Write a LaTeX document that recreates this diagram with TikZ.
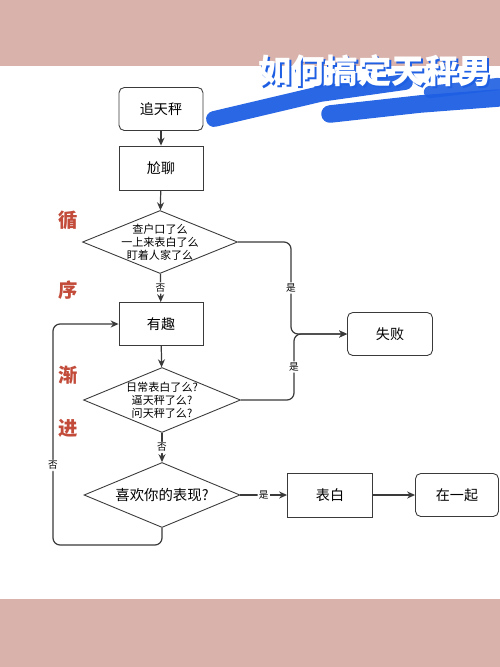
\documentclass[tikz,border=0pt]{standalone}
\usepackage{fontspec}
\setmainfont{Noto Sans CJK SC}
\usetikzlibrary{shapes.geometric,arrows.meta}
\definecolor{bandpink}{HTML}{D8B2AB}
\definecolor{brushblue}{HTML}{1E5FE3}
\definecolor{hintred}{HTML}{C24B3A}
\definecolor{linegray}{HTML}{3A3A3A}
\begin{document}
\begin{tikzpicture}[x=0.02cm,y=-0.02cm,
    box/.style={draw=linegray,line width=0.5pt,minimum width=1.68cm,minimum height=0.86cm,inner sep=0pt,font=\fontsize{8}{9}\selectfont},
    rbox/.style={box,rounded corners=3pt},
    ask/.style={draw=linegray,line width=0.5pt,diamond,aspect=2.5,inner sep=0pt,inner ysep=-2pt,minimum width=3.1cm,minimum height=1.26cm,align=center,font=\fontsize{6.3}{7.4}\selectfont},
    lbl/.style={fill=white,inner sep=0.8pt,font=\fontsize{5.5}{6}\selectfont},
    flow/.style={draw=linegray,line width=0.7pt,rounded corners=4pt,-{Stealth[length=4.5pt,width=4pt]}},
    hint/.style={text=hintred,font=\fontsize{11}{12}\selectfont\bfseries}]
    \useasboundingbox (0,0) rectangle (500,667);
    \fill[white] (0,0) rectangle (500,667);
    \fill[bandpink] (0,0) rectangle (500,66);
    \fill[bandpink] (0,599) rectangle (500,667);
    \draw[brushblue,line width=9pt,line cap=round,opacity=0.95] (214,119) -- (320,94) -- (405,82);
    \draw[brushblue,line width=10pt,line cap=round,opacity=0.95] (330,114) -- (420,104) -- (498,98);
    \draw[brushblue,line width=7pt,line cap=round,opacity=0.9] (430,92) -- (498,84);
    \node[text=brushblue,font=\fontsize{19}{20}\selectfont\bfseries] (shade) at (377,73) {如何搞定天秤男};
    \node[text=white,font=\fontsize{19}{20}\selectfont\bfseries] (title) at (375,71) {如何搞定天秤男};

    \node[rbox] (chase) at (161,109) {追天秤};
    \node[box,minimum height=0.88cm] (chat) at (161,168) {尬聊};
    \node[ask] (q1) at (160,242) {查户口了么\\一上来表白了么\\盯着人家了么};
    \node[box] (fun) at (161,324) {有趣};
    \node[ask,minimum width=3.14cm,minimum height=1.3cm] (q2) at (162,400) {日常表白了么?\\逼天秤了么?\\问天秤了么?};
    \node[ask,minimum width=3.12cm,minimum height=1.3cm,font=\fontsize{8.2}{9}\selectfont] (q3) at (162,495) {喜欢你的表现?};
    \node[box,minimum width=1.7cm,minimum height=0.88cm] (confess) at (330,495) {表白};
    \node[rbox,minimum width=1.66cm] (together) at (457,495) {在一起};
    \node[rbox,minimum width=1.7cm] (fail) at (390,334) {失败};

    \node[hint] (h1) at (68,220) {循};
    \node[hint] (h2) at (68,290) {序};
    \node[hint] (h3) at (68,375) {渐};
    \node[hint] (h4) at (68,428) {进};

    \draw[flow] (chase) -- (chat);
    \draw[flow] (chat) -- (q1);
    \draw[flow] (q1) -- node[lbl] (n1) {否} (fun);
    \draw[flow] (fun) -- (q2);
    \draw[flow] (q2) -- node[lbl] (n2) {否} (q3);
    \draw[flow] (q1.east) -- (291,242) -- node[lbl] (y1) {是} (291,334) -- (fail.west);
    \draw[flow] (q2.east) -- (294,400) -- node[lbl] (y2) {是} (294,334) -- (fail.west);
    \draw[flow] (q3) -- node[lbl] (y3) {是} (confess);
    \draw[flow] (confess) -- (together);
    \draw[flow] (q3.south) -- (162,545) -- (53,545) -- node[lbl,pos=0.36] (n3) {否} (53,324) -- (fun.west);
\end{tikzpicture}
\end{document}
